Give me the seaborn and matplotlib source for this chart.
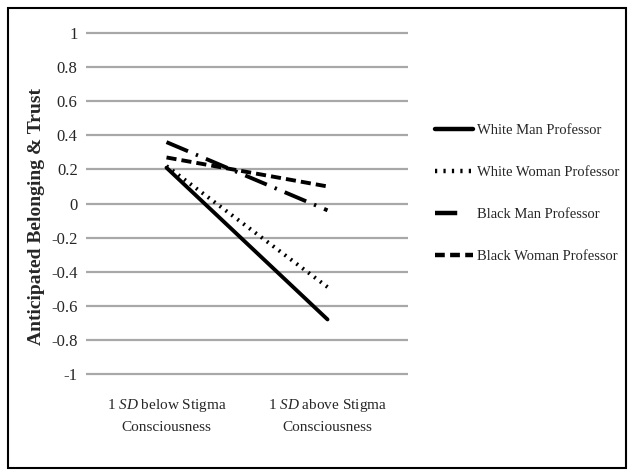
import matplotlib
matplotlib.use("Agg")
import matplotlib.pyplot as plt
import seaborn as sns
import pandas as pd
from matplotlib.patches import Rectangle
from matplotlib.lines import Line2D

sns.set_theme(style="white")
plt.rcParams['font.family'] = ['Liberation Serif', 'DejaVu Serif']
plt.rcParams['mathtext.fontset'] = 'custom'
plt.rcParams['mathtext.rm'] = 'Liberation Serif'
plt.rcParams['mathtext.it'] = 'Liberation Serif:italic'

categories = ["1 $\\mathit{SD}$ below Stigma\nConsciousness",
              "1 $\\mathit{SD}$ above Stigma\nConsciousness"]
series = ["White Man Professor", "White Woman Professor",
          "Black Man Professor", "Black Woman Professor"]
white_man = [0.21, -0.68]
white_woman = [0.22, -0.49]
black_man = [0.36, -0.04]
black_woman = [0.27, 0.10]
yticks = [1, 0.8, 0.6, 0.4, 0.2, 0, -0.2, -0.4, -0.6, -0.8, -1]
ytick_labels = ["1", "0.8", "0.6", "0.4", "0.2", "0", "-0.2", "-0.4", "-0.6", "-0.8", "-1"]

values = [white_man, white_woman, black_man, black_woman]
rows = []
for s, vals in zip(series, values):
    for i, v in enumerate(vals):
        rows.append({"series": s, "x": i, "y": v})
df = pd.DataFrame(rows)

W, H = 634, 476
fig = plt.figure(figsize=(W / 100, H / 100), dpi=100)
fig.patch.set_facecolor("white")
fig.add_artist(Rectangle((8 / W, 8 / H), 618 / W, 460 / H, transform=fig.transFigure,
                         fill=False, edgecolor="black", linewidth=1.5))

ax = fig.add_axes([86 / W, 1 - 377.4 / H, 322 / W, 347.8 / H])
ax.set_facecolor("white")

LW = 2.8
styles = {
    "White Man Professor": "-",
    "White Woman Professor": (0, (0.5, 1.4)),
    "Black Man Professor": (0, (6, 2.2, 0.6, 2.2)),
    "Black Woman Professor": (0, (2.6, 1.3)),
}
for s in series:
    sub = df[df["series"] == s]
    sns.lineplot(data=sub, x="x", y="y", ax=ax, color="black",
                 linestyle=styles[s], linewidth=LW, legend=False, zorder=3)

ax.set_xlim(-0.5, 1.5)
ax.set_ylim(-1.02, 1.02)
ax.set_yticks(yticks)
ax.set_yticklabels(ytick_labels, fontsize=12)
ax.set_xticks([0, 1])
ax.set_xticklabels(categories, fontsize=11, linespacing=1.75)
ax.tick_params(axis="both", length=0, pad=6)
ax.tick_params(axis="x", pad=14)
for y in yticks:
    ax.axhline(y, color="#a8a8a8", linewidth=1.6, zorder=1)
for sp in ax.spines.values():
    sp.set_visible(False)
ax.grid(False)
ax.set_xlabel("")
ax.set_ylabel("Anticipated Belonging & Trust", fontsize=14, fontweight="bold")
ax.yaxis.set_label_coords(-0.128, 0.462)

handles = [
    Line2D([0], [0], color="black", linestyle="-", lw=3.2),
    Line2D([0], [0], color="black", linestyle=(0, (0.5, 1.4)), lw=3.2),
    Line2D([0], [0], color="black", linestyle=(0, (5, 30)), lw=3.2),
    Line2D([0], [0], color="black", linestyle=(0, (2.2, 1.2)), lw=3.2),
]
fig.legend(handles, series, loc="upper left", bbox_to_anchor=(428 / W, 1 - 117 / H),
           frameon=False, fontsize=10.5, handlelength=2.6, handletextpad=0.25,
           labelspacing=1.97, borderpad=0)

fig.savefig("out.png", dpi=100)
